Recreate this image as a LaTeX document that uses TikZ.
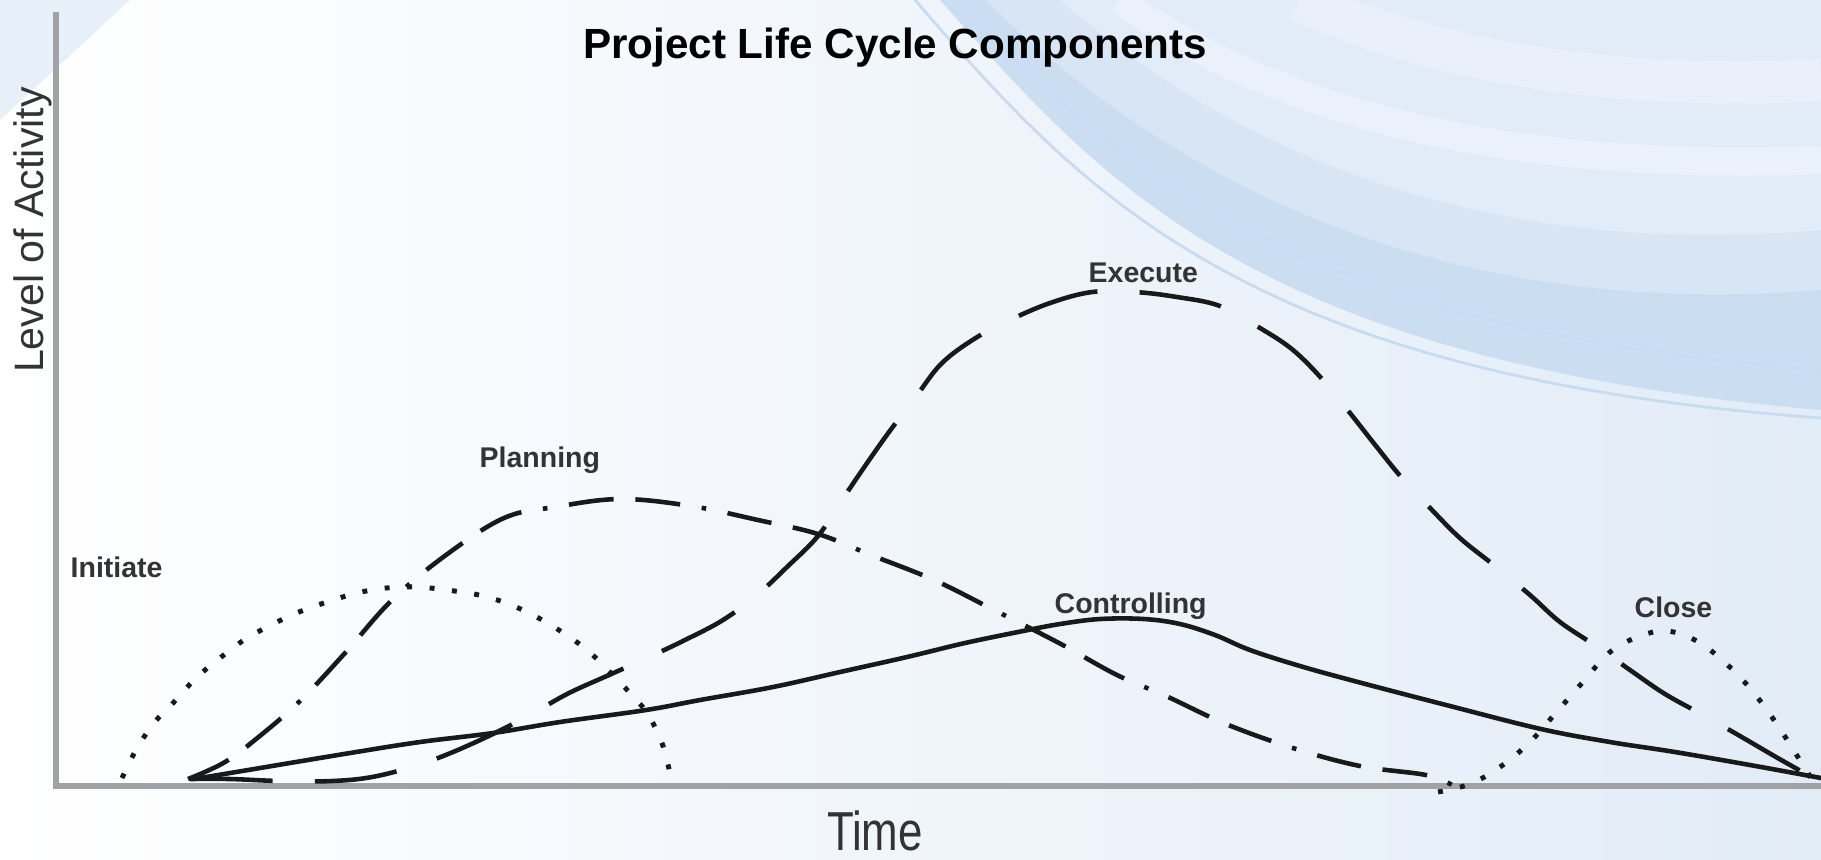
\documentclass[tikz,border=0pt]{standalone}
\usepackage{fontspec}
\setmainfont{Liberation Sans}
\definecolor{skyend}{RGB}{226,236,247}
\definecolor{swooshlight}{RGB}{226,236,248}
\definecolor{swooshmid}{RGB}{200,220,241}
\definecolor{axisgray}{RGB}{160,162,166}
\begin{document}
\begin{tikzpicture}[x=0.01cm,y=-0.01cm,
  phase/.style={font=\fontsize{8.1}{9}\selectfont\bfseries,text=black!80,inner sep=0pt,anchor=base west},
  curve/.style={line width=1.3pt,black!90},
  initdots/.style={curve,line width=1.4pt,dash pattern=on 1.4pt off 5pt},
  plandash/.style={curve,dash pattern=on 12.8pt off 6.2pt on 12.8pt off 6.2pt on 1.3pt off 6.2pt},
  execdash/.style={curve,dash pattern=on 23.5pt off 12pt},
  axisline/.style={line width=1.5pt,axisgray}]
\useasboundingbox (0,0) rectangle (1821,859);

% background and swoosh
\shade[left color=white,right color=skyend] (0,0) rectangle (1821,859);
\fill[swooshlight,opacity=0.8] (0,0) -- (130,0) -- (0,120) -- cycle;
\fill[swooshlight] (940,0) .. controls (1100,180) and (1250,360) .. (1821,410) -- (1821,0) -- cycle;
\fill[swooshmid,opacity=0.9] (940,0) .. controls (1100,180) and (1250,360) .. (1821,410)
  -- (1821,290) .. controls (1450,320) and (1180,190) .. (985,0) -- cycle;
\fill[swooshmid,opacity=0.4] (985,0) .. controls (1180,190) and (1450,320) .. (1821,290)
  -- (1821,230) .. controls (1480,260) and (1230,150) .. (1060,0) -- cycle;
\draw[white,line width=8pt,opacity=0.3] (1120,0) .. controls (1300,130) and (1550,170) .. (1821,160);
\draw[white,line width=12pt,opacity=0.25] (1300,0) .. controls (1450,70) and (1650,90) .. (1821,80);
\draw[swooshmid,line width=0.8pt] (915,0) .. controls (1080,190) and (1240,375) .. (1821,418);
\draw[swooshmid,line width=0.6pt] (955,0) .. controls (1120,170) and (1300,330) .. (1821,370);

\draw[axisline] (56,12) -- (56,786) -- (1821,786);

\node (title) [font=\fontsize{12}{14}\selectfont\bfseries,anchor=base] at (895,58) {Project Life Cycle Components};
\node (yaxislabel) [rotate=90,anchor=base,font=\fontsize{11.7}{14}\selectfont,text=black!80] at (43,230) {Level of Activity};
\node (timelabel) [anchor=base,inner sep=0pt,font=\fontsize{15.6}{18}\selectfont,text=black!80] at (875,850) {\scalebox{0.8}[1]{Time}};

% phase curves
\draw[initdots] plot[smooth,tension=0.6] coordinates {(122,778) (136,750) (154,723) (174,702) (196,678) (220,658)
  (244,640) (271,625) (299,612) (327,602) (357,593) (386,588) (417,587) (447,590) (479,595) (506,603)
  (533,615) (562,632) (587,650) (610,672) (629,692) (647,713) (662,743) (671,778)};
\draw[plandash] plot[smooth,tension=0.6] coordinates {(188,779) (225,762) (261,735) (301,700) (345,653) (392,600)
  (446,555) (504,518) (555,507) (620,499) (691,506) (758,520) (818,534) (871,555) (934,580) (996,611)
  (1059,643) (1117,675) (1166,696) (1226,724) (1293,748) (1360,766) (1426,775) (1452,785)};
\draw[execdash] plot[smooth,tension=0.6] coordinates {(190,779) (230,779) (280,781) (332,781) (372,777) (415,766)
  (453,752) (497,732) (535,712) (569,693) (609,675) (647,658) (685,640) (723,620) (757,595) (787,567)
  (818,536) (842,500) (865,466) (889,432) (915,398) (941,364) (974,339) (1010,320) (1050,303) (1092,292)
  (1135,292) (1177,297) (1220,306) (1260,328) (1293,350) (1323,380) (1350,413) (1376,446) (1402,478)
  (1432,510) (1461,539) (1495,566) (1530,595) (1560,622) (1596,646) (1630,670) (1665,694) (1703,715)
  (1740,736) (1776,757) (1808,775) (1821,782)};
\draw[curve] plot[smooth,tension=0.6] coordinates {(200,778) (260,768) (350,753) (420,742) (493,733) (560,722)
  (646,710) (700,700) (773,687) (840,672) (907,657) (965,643) (1023,631) (1060,624) (1100,619) (1144,619)
  (1180,624) (1215,635) (1250,650) (1300,666) (1358,682) (1450,706) (1541,729) (1610,742) (1675,752)
  (1750,765) (1821,778)};
\draw[initdots] plot[smooth,tension=0.6] coordinates {(1438,792) (1470,784) (1500,767) (1529,743) (1554,715)
  (1582,683) (1610,652) (1640,636) (1667,631) (1695,640) (1721,659) (1749,687) (1774,720) (1796,754) (1816,786)};

\node (initiate) [phase] at (70,577) {Initiate};
\node (planning) [phase] at (479,467) {Planning};
\node (execute) [phase] at (1088,282) {Execute};
\node (controlling) [phase] at (1054,613) {Controlling};
\node (close) [phase] at (1634,617) {Close};
\end{tikzpicture}
\end{document}
